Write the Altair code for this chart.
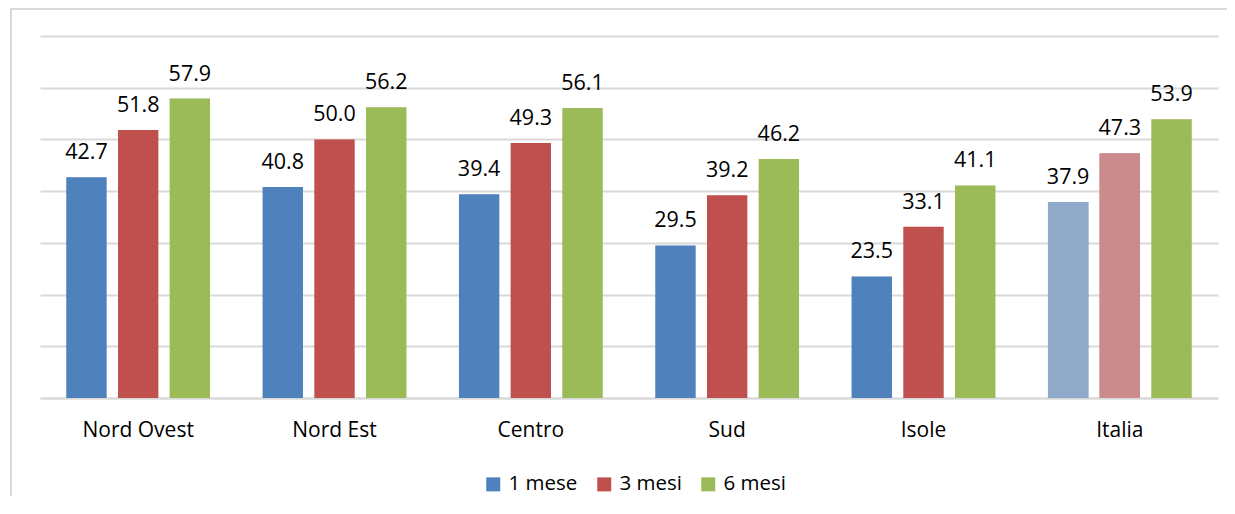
import altair as alt
import pandas as pd

regioni = ["Nord Ovest", "Nord Est", "Centro", "Sud", "Isole", "Italia"]
serie = ["1 mese", "3 mesi", "6 mesi"]
v_1mese = [42.7, 40.8, 39.4, 29.5, 23.5, 37.9]
v_3mesi = [51.8, 50.0, 49.3, 39.2, 33.1, 47.3]
v_6mesi = [57.9, 56.2, 56.1, 46.2, 41.1, 53.9]
colori = ["#4F81BD", "#C0504D", "#9BBB59"]
colori_sbiaditi = {"1 mese": "#8FA9C8", "3 mesi": "#C98B8B"}

rows = []
for s, vals in zip(serie, [v_1mese, v_3mesi, v_6mesi]):
    for r, v in zip(regioni, vals):
        fade = colori_sbiaditi.get(s) if r == "Italia" else None
        rows.append({"regione": r, "serie": s, "valore": v, "fade": fade})
df = pd.DataFrame(rows)

FONT = "Open Sans"

x = alt.X("regione:N", sort=regioni, title=None,
          scale=alt.Scale(paddingInner=0.21, paddingOuter=0.105),
          axis=alt.Axis(labelAngle=0, labelFontSize=21, labelFont=FONT, labelColor="#000",
                        labelPadding=21, ticks=False, domainColor="#D9D9D9", domainWidth=2,
                        grid=False))
xo = alt.XOffset("serie:N", sort=serie,
                 scale=alt.Scale(domain=serie, paddingInner=0.22, paddingOuter=0.11))
y = alt.Y("valore:Q", title=None,
          scale=alt.Scale(domain=[0, 70], nice=False),
          axis=alt.Axis(values=[0, 10, 20, 30, 40, 50, 60, 70], labels=False, ticks=False,
                        domain=False, grid=True, gridColor="#D9D9D9", gridWidth=2))

base = alt.Chart(df)

shadow = base.mark_bar(color="#000", opacity=0.12, xOffset=4, x2Offset=4).encode(
    x=x, xOffset=xo, y=y)

bars = base.mark_bar().encode(
    x=x, xOffset=xo, y=y,
    color=alt.Color("serie:N", sort=serie,
                    scale=alt.Scale(domain=serie, range=colori),
                    legend=alt.Legend(title=None, orient="none", direction="horizontal",
                                      legendX=443, legendY=438, symbolType="square",
                                      symbolSize=196, symbolStrokeWidth=0, labelFontSize=20.5,
                                      labelFont=FONT, labelColor="#000", columnPadding=16,
                                      labelOffset=5, symbolOpacity=1)))

faded = base.transform_filter("datum.fade != null").mark_bar().encode(
    x=x, xOffset=xo, y=y, color=alt.Color("fade:N", scale=None))

labels = base.mark_text(baseline="alphabetic", dy=-18, fontSize=21.5, font=FONT, color="#000").encode(
    x=x, xOffset=xo, y=y, text=alt.Text("valore:Q", format=".1f"))

frame_left = alt.Chart(pd.DataFrame({"a": [0]})).mark_rule(color="#D9D9D9", strokeWidth=2).encode(
    x=alt.value(-29), y=alt.value(-28), y2=alt.value(480))
frame_top = alt.Chart(pd.DataFrame({"a": [0]})).mark_rule(color="#D9D9D9", strokeWidth=2).encode(
    x=alt.value(-29), x2=alt.value(1200), y=alt.value(-27))

chart = alt.layer(frame_left, frame_top, shadow, bars, faded, labels).properties(
    width=1178, height=362,
    padding={"left": 32, "top": 28, "right": 9, "bottom": 98},
    autosize=alt.AutoSizeParams(type="none"),
    background="white",
).configure_view(stroke=None, strokeWidth=0)

chart.save("out.html", embed_options={"renderer": "svg", "actions": False})
